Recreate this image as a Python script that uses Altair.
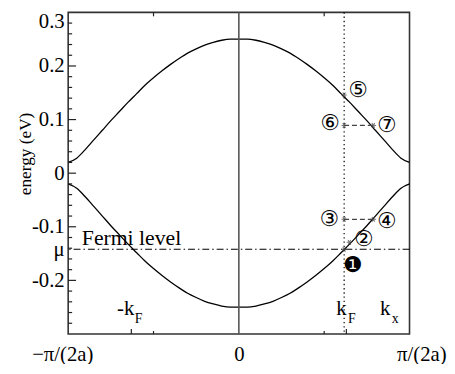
import altair as alt
import pandas as pd

# ---- data ----
k_vals = [-1.00, -0.95, -0.90, -0.85, -0.80, -0.75, -0.70, -0.65, -0.60, -0.55, -0.50,
          -0.45, -0.40, -0.35, -0.30, -0.25, -0.20, -0.15, -0.10, -0.05, 0.00,
          0.05, 0.10, 0.15, 0.20, 0.25, 0.30, 0.35, 0.40, 0.45, 0.50,
          0.55, 0.60, 0.65, 0.70, 0.75, 0.80, 0.85, 0.90, 0.95, 1.00]
upper_band = [0.020, 0.028, 0.044, 0.062, 0.080, 0.098, 0.115, 0.132, 0.148, 0.164, 0.178,
              0.191, 0.203, 0.214, 0.224, 0.232, 0.239, 0.244, 0.248, 0.250, 0.250,
              0.250, 0.248, 0.244, 0.239, 0.232, 0.224, 0.214, 0.203, 0.191, 0.178,
              0.164, 0.148, 0.132, 0.115, 0.098, 0.080, 0.062, 0.044, 0.028, 0.020]
lower_band = [-0.020, -0.028, -0.044, -0.062, -0.080, -0.098, -0.115, -0.132, -0.148, -0.164, -0.178,
              -0.191, -0.203, -0.214, -0.224, -0.232, -0.239, -0.244, -0.248, -0.250, -0.250,
              -0.250, -0.248, -0.244, -0.239, -0.232, -0.224, -0.214, -0.203, -0.191, -0.178,
              -0.164, -0.148, -0.132, -0.115, -0.098, -0.080, -0.062, -0.044, -0.028, -0.020]

mu = -0.142
k_F = 0.617

y_label_values = [0.3, 0.2, 0.1, 0.0, -0.1, -0.142, -0.2]
y_label_texts = ["0.3", "0.2", "0.1", "0", "-0.1", "μ", "-0.2"]
x_label_values = [-1, 0, 1]
x_label_texts = ["−π/(2a)", "0", "π/(2a)"]

y_major_ticks = [0.2, 0.1, 0.0, -0.1, -0.2]
y_minor_ticks = [0.28, 0.26, 0.24, 0.22, 0.18, 0.16, 0.14, 0.12, 0.08, 0.06, 0.04, 0.02,
                 -0.02, -0.04, -0.06, -0.08, -0.12, -0.14, -0.16, -0.18, -0.22, -0.24, -0.26, -0.28]
bottom_major_ticks = [-0.63, 0.63]
half_ticks = [-0.5, 0.5]

star_k = [0.617, 0.617, 0.788, 0.617, 0.788, 0.648, 0.617]
star_e = [0.146, 0.089, 0.089, -0.086, -0.086, -0.129, -0.142]

circ_text = ["⑤", "⑥", "⑦", "③", "④", "②", "❶"]
circ_k = [0.698, 0.534, 0.866, 0.529, 0.866, 0.731, 0.667]
circ_e = [0.155, 0.094, 0.090, -0.086, -0.090, -0.123, -0.171]

seg_k1 = [0.617, 0.617]
seg_k2 = [0.788, 0.788]
seg_e = [0.089, -0.086]

main_text = ["-k", "k", "k"]
main_k = [-0.714, 0.571, 0.827]
main_e = [-0.265, -0.265, -0.265]
sub_text = ["F", "F", "x"]
sub_k = [-0.61, 0.64, 0.896]
sub_e = [-0.279, -0.279, -0.279]

FONT = "Liberation Serif"
W, H = 346, 326

xs = alt.Scale(domain=[-1, 1], nice=False, zero=False)
ys = alt.Scale(domain=[-0.3, 0.3], nice=False, zero=False)

bands = pd.DataFrame({
    "k": k_vals * 2,
    "E": upper_band + lower_band,
    "band": ["upper"] * len(k_vals) + ["lower"] * len(k_vals),
})


def expr_from(values, texts, tol=0.001):
    parts = []
    for v, t in zip(values, texts):
        parts.append(f"abs(datum.value - ({v})) < {tol} ? '{t}' : ")
    return "".join(parts) + "''"


x_axis = alt.Axis(values=x_label_values, labelExpr=expr_from(x_label_values, x_label_texts),
                  ticks=False, domain=False, grid=False, title=None, labelFlush=False,
                  labelFont=FONT, labelFontSize=21, labelColor="black", labelPadding=10,
                  labelOffset={"condition": [{"test": "datum.value < -0.5", "value": -6},
                                             {"test": "datum.value > 0.5", "value": 12}],
                               "value": 0})
y_axis = alt.Axis(values=y_label_values, labelExpr=expr_from(y_label_values, y_label_texts),
                  ticks=False, domain=False, grid=False, title="energy (eV)", labelFlush=False,
                  labelFont=FONT, labelFontSize=21, labelColor="black", labelPadding=4,
                  labelOffset={"condition": {"test": "datum.value > 0.25", "value": 9}, "value": 0},
                  titleFont=FONT, titleFontSize=17.5, titleFontWeight="normal", titleColor="black",
                  titleAngle=270, titleAlign="center", titleBaseline="middle",
                  titleX=-43, titleY=143)


def X(f):
    return alt.X(f, type="quantitative", scale=xs, axis=x_axis)


def Y(f):
    return alt.Y(f, type="quantitative", scale=ys, axis=y_axis)


band_layer = alt.Chart(bands).mark_line(color="black", strokeWidth=1.3, interpolate="monotone").encode(
    x=X("k"), y=Y("E"), detail="band:N",
)

zero_line = alt.Chart(pd.DataFrame({"k": [0.0]})).mark_rule(color="#555", strokeWidth=1.6).encode(x=X("k"))

kf_line = alt.Chart(pd.DataFrame({"k": [k_F]})).mark_rule(
    color="black", strokeWidth=1.2, strokeDash=[1.3, 3]).encode(x=X("k"))

fermi_line = alt.Chart(pd.DataFrame({"E": [mu]})).mark_rule(
    color="black", strokeWidth=1.1, strokeDash=[7, 3, 1.5, 3]).encode(y=Y("E"))

segs = alt.Chart(pd.DataFrame({"k": seg_k1, "k2": seg_k2, "E": seg_e})).mark_rule(
    color="#444", strokeWidth=1.3, strokeDash=[5, 3]).encode(x=X("k"), x2="k2:Q", y=Y("E"))

asterisk = "M-1,0L1,0M-0.5,-0.866L0.5,0.866M-0.5,0.866L0.5,-0.866"
stars = alt.Chart(pd.DataFrame({"k": star_k, "E": star_e})).mark_point(
    shape=asterisk, size=30, filled=False, color="#444", strokeWidth=1.1).encode(x=X("k"), y=Y("E"))

circ = alt.Chart(pd.DataFrame({"k": circ_k, "E": circ_e, "t": circ_text})).mark_text(
    font="DejaVu Sans", fontSize=22, color="black", align="center", baseline="middle").encode(
    x=X("k"), y=Y("E"), text="t:N")

fermi_text = alt.Chart(pd.DataFrame({"k": [-0.92], "E": [mu], "t": ["Fermi level"]})).mark_text(
    font=FONT, fontSize=22, color="black", align="left", baseline="alphabetic", dy=-4).encode(
    x=X("k"), y=Y("E"), text="t:N")

kmain = alt.Chart(pd.DataFrame({"k": main_k, "E": main_e, "t": main_text})).mark_text(
    font=FONT, fontSize=21, color="black", align="left", baseline="alphabetic").encode(
    x=X("k"), y=Y("E"), text="t:N")
ksub = alt.Chart(pd.DataFrame({"k": sub_k, "E": sub_e, "t": sub_text})).mark_text(
    font=FONT, fontSize=14, color="black", align="left", baseline="alphabetic").encode(
    x=X("k"), y=Y("E"), text="t:N")

tick_col = "#222"
ymaj = alt.Chart(pd.DataFrame({"E": y_major_ticks})).mark_rule(color=tick_col, strokeWidth=1.2).encode(
    y=Y("E"), x=alt.value(0), x2=alt.value(8))
ymin = alt.Chart(pd.DataFrame({"E": y_minor_ticks})).mark_rule(color=tick_col, strokeWidth=1.2).encode(
    y=Y("E"), x=alt.value(0), x2=alt.value(4))
bmaj = alt.Chart(pd.DataFrame({"k": bottom_major_ticks})).mark_rule(color=tick_col, strokeWidth=1.2).encode(
    x=X("k"), y=alt.value(H), y2=alt.value(H - 5))
bmin = alt.Chart(pd.DataFrame({"k": half_ticks})).mark_rule(color=tick_col, strokeWidth=1.2).encode(
    x=X("k"), y=alt.value(H), y2=alt.value(H - 3))
tmin = alt.Chart(pd.DataFrame({"k": half_ticks})).mark_rule(color=tick_col, strokeWidth=1.2).encode(
    x=X("k"), y=alt.value(0), y2=alt.value(4))

chart = alt.layer(
    band_layer, zero_line, kf_line, fermi_line, segs, stars, circ, fermi_text, kmain, ksub,
    ymaj, ymin, bmaj, bmin, tmin,
).properties(
    width=W, height=H,
    autosize=alt.AutoSizeParams(type="none"),
    padding={"left": 61, "top": 2, "right": 38, "bottom": 28},
).configure_view(
    stroke="#333", strokeWidth=1.6
)

chart.save("out.html", embed_options={"renderer": "svg", "actions": False})
